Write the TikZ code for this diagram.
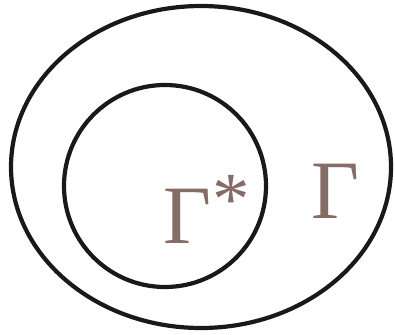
\documentclass[tikz,border=0pt]{standalone}
\usepackage{fontspec}
\setmainfont{Liberation Serif}
\usepackage{tikz}
\definecolor{gammabrown}{RGB}{133,108,102}
\tikzset{
  setline/.style={draw=black!90,line width=4.2pt},
  setlabel/.style={inner sep=0pt,text=gammabrown,font=\fontsize{83}{83}\selectfont}
}
\begin{document}
\begin{tikzpicture}[x=1pt,y=-1pt]
  \useasboundingbox (0,0) rectangle (395,334);
  % the two sets
  \draw[setline] (201,167) ellipse [x radius=190,y radius=161];
  \draw[setline] (165,186) circle [radius=101];
  \node[setlabel,anchor=base west] (gstar) at (163,243) {Γ\kern1pt\raisebox{19pt}{\fontsize{75}{75}\selectfont *}};
  \node[setlabel,anchor=base west] (gam) at (311,218) {Γ};
\end{tikzpicture}
\end{document}
